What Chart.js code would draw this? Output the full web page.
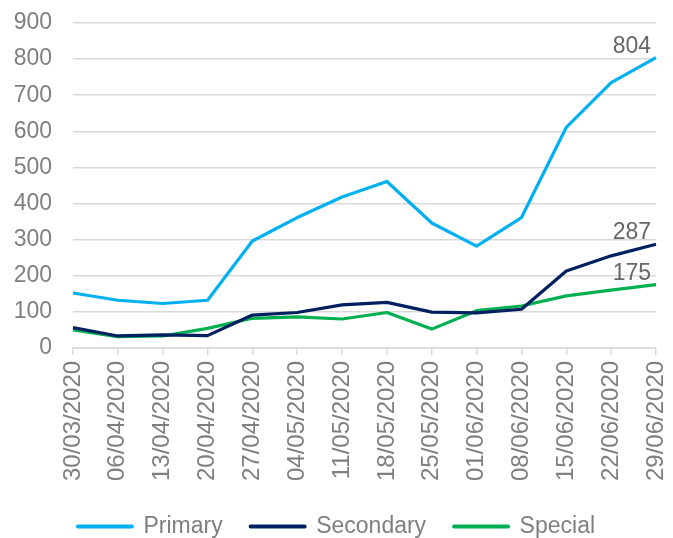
<!DOCTYPE html>
<html>
<head>
<meta charset="utf-8">
<script src="https://cdn.jsdelivr.net/npm/chart.js@4/dist/chart.umd.min.js"></script>
<style>
  html, body { margin: 0; padding: 0; background: #ffffff; overflow: hidden; }
  #wrap { width: 673px; height: 538px; position: relative; }
</style>
</head>
<body>
<div id="wrap"><canvas id="chart"></canvas></div>
<script>
// Weekly counts by school type
const weeks = ['30/03/2020', '06/04/2020', '13/04/2020', '20/04/2020', '27/04/2020', '04/05/2020', '11/05/2020',
               '18/05/2020', '25/05/2020', '01/06/2020', '08/06/2020', '15/06/2020', '22/06/2020', '29/06/2020'];
const primary   = [152, 132, 123, 132, 296, 361, 418, 461, 346, 282, 361, 611, 735, 804];
const secondary = [56, 33, 36, 34, 91, 98, 119, 126, 99, 97, 107, 213, 255, 287];
const special   = [50, 31, 33, 54, 82, 86, 80, 98, 52, 103, 116, 144, 160, 175];
const yTicks    = [0, 100, 200, 300, 400, 500, 600, 700, 800, 900];

const FONT = '"Liberation Sans", Arial, sans-serif';
const TEXT_GREY = '#7f7f7f';
const GRID_GREY = '#d9d9d9';

// Writes the latest value just above the end of each line
const endLabels = {
  id: 'endLabels',
  afterDatasetsDraw(chart) {
    const ctx = chart.ctx;
    ctx.save();
    ctx.font = '23px ' + FONT;
    ctx.fillStyle = '#666666';
    ctx.textAlign = 'right';
    ctx.textBaseline = 'alphabetic';
    chart.data.datasets.forEach((ds, i) => {
      const meta = chart.getDatasetMeta(i);
      const last = meta.data[meta.data.length - 1];
      const value = ds.data[ds.data.length - 1];
      ctx.fillText(String(value), last.x - 5, last.y - 5);
    });
    ctx.restore();
  }
};

const lineStyle = { borderWidth: 3.2, pointRadius: 0, tension: 0, borderJoinStyle: 'round', fill: false };

new Chart(document.getElementById('chart'), {
  type: 'line',
  data: {
    labels: weeks,
    datasets: [
      { label: 'Primary',   data: primary,   borderColor: '#00b0f0', backgroundColor: '#00b0f0', ...lineStyle },
      { label: 'Secondary', data: secondary, borderColor: '#002060', backgroundColor: '#002060', ...lineStyle },
      { label: 'Special',   data: special,   borderColor: '#00b050', backgroundColor: '#00b050', ...lineStyle }
    ]
  },
  options: {
    responsive: true,
    maintainAspectRatio: false,
    animation: false,
    layout: { padding: { left: 0, right: 0, top: 23, bottom: -10 } },
    plugins: {
      tooltip: { enabled: false },
      legend: {
        position: 'bottom',
        labels: {
          usePointStyle: true,
          pointStyle: 'line',
          pointStyleWidth: 54,
          padding: 28,
          color: TEXT_GREY,
          font: { family: FONT, size: 23 },
          generateLabels(chart) {
            return Chart.defaults.plugins.legend.labels.generateLabels(chart)
              .map(item => ({ ...item, lineWidth: 4, lineCap: 'round', pointStyle: 'line' }));
          }
        }
      }
    },
    scales: {
      x: {
        offset: false,
        afterFit(scale) { scale.paddingLeft = 0; scale.paddingRight = 17; },
        grid: { drawOnChartArea: false, drawTicks: true, tickLength: 7, color: GRID_GREY, lineWidth: 1.5 },
        border: { display: true, color: GRID_GREY, width: 1.5 },
        ticks: {
          color: TEXT_GREY,
          font: { family: FONT, size: 24 },
          minRotation: 90,
          maxRotation: 90,
          autoSkip: false,
          padding: 6
        }
      },
      y: {
        min: 0,
        max: 900,
        afterBuildTicks(scale) { scale.ticks = yTicks.map(v => ({ value: v })); },
        afterFit(scale) { scale.width = 73; scale.paddingTop = 0; scale.paddingBottom = 0; },
        grid: { drawTicks: false, color: GRID_GREY, lineWidth: 1.5 },
        border: { display: false },
        ticks: {
          color: TEXT_GREY,
          font: { family: FONT, size: 23 },
          padding: 21
        }
      }
    }
  },
  plugins: [endLabels]
});
</script>
</body>
</html>
